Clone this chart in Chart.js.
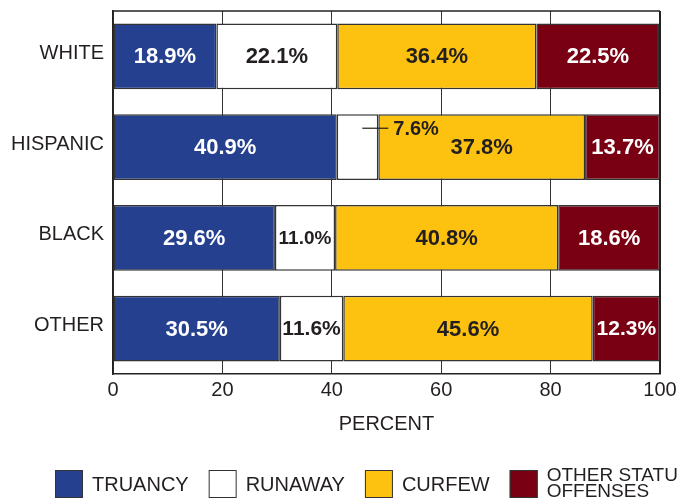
<!DOCTYPE html>
<html>
<head>
<meta charset="utf-8">
<script src="https://cdn.jsdelivr.net/npm/chart.js@4/dist/chart.umd.min.js"></script>
<style>
  html, body { margin: 0; padding: 0; background: #fff; }
  #wrap { width: 677px; height: 499px; }
</style>
</head>
<body>
<div id="wrap"><canvas id="chart"></canvas></div>
<script>
const groups = ["WHITE", "HISPANIC", "BLACK", "OTHER"];
const seriesNames = ["TRUANCY", "RUNAWAY", "CURFEW", ["OTHER STATUS", "OFFENSES"]];
const truancy = [18.9, 40.9, 29.6, 30.5];
const runaway = [22.1, 7.6, 11.0, 11.6];
const curfew = [36.4, 37.8, 40.8, 45.6];
const otherStatus = [22.5, 13.7, 18.6, 12.3];
const xTicks = [0, 20, 40, 60, 80, 100];

const FONT = "'Liberation Sans', Arial, sans-serif";
const INK = "#231f20";
const colors = ["#25408f", "#ffffff", "#fdc20f", "#780012"];
const labelColors = ["#ffffff", INK, INK, "#ffffff"];

const values = [truancy, runaway, curfew, otherStatus];

// values printed on each segment, callout when the segment is too narrow
const segLabels = {
  id: "segLabels",
  afterDatasetsDraw(chart) {
    const ctx = chart.ctx;
    ctx.save();
    ctx.textBaseline = "middle";
    chart.data.datasets.forEach((ds, di) => {
      const meta = chart.getDatasetMeta(di);
      meta.data.forEach((bar, i) => {
        const txt = ds.data[i].toFixed(1) + "%";
        const left = Math.min(bar.x, bar.base), right = Math.max(bar.x, bar.base);
        const w = right - left;
        ctx.fillStyle = labelColors[di];
        if (w < 50) {
          const top = bar.y - bar.height / 2;
          const ly = top + 14;
          ctx.strokeStyle = INK;
          ctx.lineWidth = 1.2;
          ctx.beginPath();
          ctx.moveTo(right - 16, ly);
          ctx.lineTo(right + 10, ly);
          ctx.stroke();
          ctx.font = "bold 20px " + FONT;
          ctx.fillStyle = INK;
          ctx.textAlign = "left";
          ctx.fillText(txt, right + 15, ly + 1);
          return;
        }
        let size = 22;
        ctx.font = "bold " + size + "px " + FONT;
        while (size > 12 && ctx.measureText(txt).width > w - 5) {
          size--;
          ctx.font = "bold " + size + "px " + FONT;
        }
        ctx.textAlign = "center";
        ctx.fillText(txt, (left + right) / 2, bar.y + 1);
      });
    });
    ctx.restore();
  }
};

// frame on top/right, legend at the bottom
const frameAndLegend = {
  id: "frameAndLegend",
  afterDraw(chart) {
    const ctx = chart.ctx;
    const a = chart.chartArea;
    ctx.save();
    ctx.strokeStyle = "#222";
    ctx.lineWidth = 1.5;
    ctx.beginPath();
    ctx.moveTo(a.left, a.top);
    ctx.lineTo(a.right, a.top);
    ctx.stroke();
    ctx.lineWidth = 2;
    ctx.beginPath();
    ctx.moveTo(a.right, a.top);
    ctx.lineTo(a.right, a.bottom);
    ctx.stroke();

    // legend
    ctx.textBaseline = "middle";
    ctx.textAlign = "left";
    let x = 55;
    const boxTop = 470, box = 28;
    chart.data.datasets.forEach((ds) => {
      ctx.fillStyle = ds.backgroundColor;
      ctx.fillRect(x, boxTop, box, box);
      ctx.strokeStyle = "#333";
      ctx.lineWidth = 1;
      ctx.strokeRect(x + 0.5, boxTop + 0.5, box - 1, box - 1);
      ctx.fillStyle = INK;
      const lines = Array.isArray(ds.label) ? ds.label : [ds.label];
      let tw = 0;
      if (lines.length === 1) {
        ctx.font = "20px " + FONT;
        ctx.fillText(lines[0], x + box + 9, boxTop + 15);
        tw = ctx.measureText(lines[0]).width;
      } else {
        ctx.font = "19px " + FONT;
        lines.forEach((ln, k) => {
          ctx.fillText(ln, x + box + 9, boxTop + 6 + k * 16);
          tw = Math.max(tw, ctx.measureText(ln).width);
        });
      }
      x += box + 9 + tw + 20;
    });
    ctx.restore();
  }
};

new Chart(document.getElementById("chart"), {
  type: "bar",
  data: {
    labels: groups,
    datasets: values.map((v, i) => ({
      label: seriesNames[i],
      data: v,
      backgroundColor: colors[i],
      borderColor: "#333",
      borderWidth: 1.5,
      borderSkipped: false,
      categoryPercentage: 1,
      barPercentage: 0.725
    }))
  },
  options: {
    indexAxis: "y",
    responsive: true,
    maintainAspectRatio: false,
    animation: false,
    layout: { padding: { top: 11, right: 17, left: 0, bottom: 63 } },
    plugins: {
      legend: { display: false },
      tooltip: { enabled: false }
    },
    scales: {
      x: {
        stacked: true,
        min: 0,
        max: 100,
        afterBuildTicks: (s) => { s.ticks = xTicks.map((v) => ({ value: v })); },
        afterFit: (s) => { s.height = 62; s.paddingLeft = 0; s.paddingRight = 0; },
        grid: { color: "#333", lineWidth: 1, drawTicks: false },
        border: { color: "#222", width: 1.5 },
        ticks: { color: INK, font: { family: FONT, size: 20 }, padding: 4, maxRotation: 0 },
        title: {
          display: true,
          text: "PERCENT",
          color: INK,
          font: { family: FONT, size: 20 },
          padding: { top: 0, bottom: 0 }
        }
      },
      y: {
        stacked: true,
        afterFit: (s) => { s.width = 113; s.paddingTop = 0; s.paddingBottom = 0; },
        grid: { display: false, drawTicks: false },
        border: { color: "#222", width: 1.5 },
        ticks: { color: INK, font: { family: FONT, size: 20 }, padding: 9, labelOffset: -3 }
      }
    }
  },
  plugins: [segLabels, frameAndLegend]
});
</script>
</body>
</html>
